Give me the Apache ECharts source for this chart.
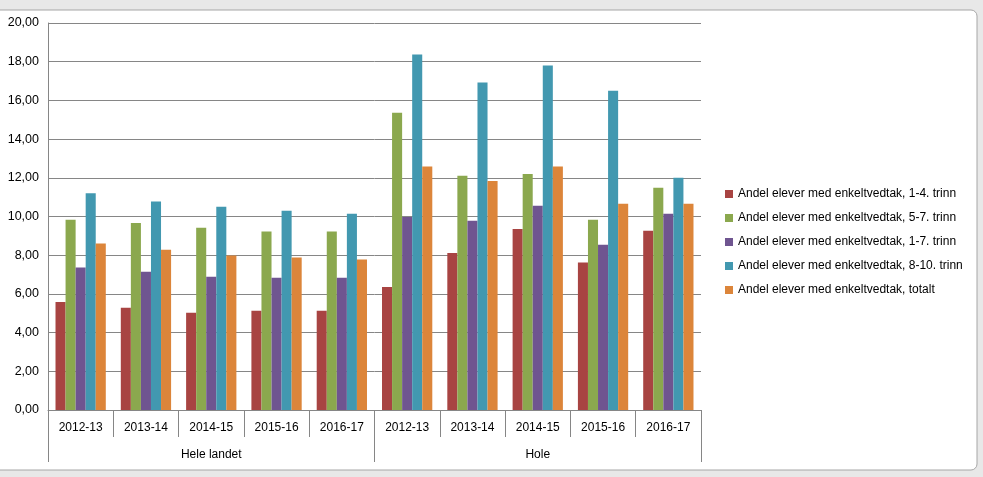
<!DOCTYPE html>
<html>
<head>
<meta charset="utf-8">
<script src="https://cdn.jsdelivr.net/npm/echarts@6/dist/echarts.min.js"></script>
<style>
    html, body { margin: 0; padding: 0; background: #e8e8e8; }
    #chart { width: 983px; height: 477px; }
</style>
</head>
<body>
<div id="chart"></div>
<script>
// data
let years = ['2012-13', '2013-14', '2014-15', '2015-16', '2016-17',
    '2012-13', '2013-14', '2014-15', '2015-16', '2016-17'];
let regions = ['Hele landet', 'Hole'];
let seriesNames = [
    'Andel elever med enkeltvedtak, 1-4. trinn',
    'Andel elever med enkeltvedtak, 5-7. trinn',
    'Andel elever med enkeltvedtak, 1-7. trinn',
    'Andel elever med enkeltvedtak, 8-10. trinn',
    'Andel elever med enkeltvedtak, totalt'
];
let trinn14 = [5.58, 5.28, 5.02, 5.13, 5.13, 6.36, 8.12, 9.36, 7.62, 9.27];
let trinn57 = [9.83, 9.67, 9.42, 9.22, 9.22, 15.36, 12.1, 12.2, 9.83, 11.48];
let trinn17 = [7.36, 7.15, 6.88, 6.83, 6.83, 9.98, 9.78, 10.56, 8.54, 10.14];
let trinn810 = [11.2, 10.77, 10.5, 10.3, 10.14, 18.37, 16.92, 17.8, 16.5, 12.0];
let totalt = [8.6, 8.28, 7.98, 7.88, 7.78, 12.58, 11.84, 12.58, 10.66, 10.66];
let colors = ['#a84442', '#8ba84e', '#6f5590', '#4298b0', '#dc853a'];

(function() {
    let chartDom = document.getElementById('chart');
    let myChart = echarts.init(chartDom);
    let values = [trinn14, trinn57, trinn17, trinn810, totalt];
    let font = 'Liberation Sans, Arial, sans-serif';

    let series = values.map(function(v, i) {
        return {
            name: seriesNames[i],
            type: 'bar',
            data: v,
            barGap: 0,
            barCategoryGap: '23%',
            itemStyle: { color: colors[i] },
            xAxisIndex: 0
        };
    });

    let option = {
        backgroundColor: 'transparent',
        animation: false,
        graphic: [
            // chart frame
            {
                type: 'rect',
                shape: { x: -20, y: 10, width: 997, height: 460, r: 6 },
                style: { fill: '#fff', stroke: '#a6a6a6', lineWidth: 1 },
                z: -10
            }
        ],
        color: colors,
        legend: {
            orient: 'vertical',
            left: 720,
            top: 183,
            itemWidth: 8,
            itemHeight: 8,
            itemGap: 12,
            icon: 'rect',
            textStyle: { fontFamily: font, fontSize: 12, color: '#000' },
            data: seriesNames
        },
        grid: {
            left: 48,
            right: 282,
            top: 23,
            bottom: 67
        },
        xAxis: [{
                type: 'category',
                data: years,
                position: 'bottom',
                axisLine: { lineStyle: { color: '#868686' } },
                axisTick: { show: true, length: 27, lineStyle: { color: '#868686' } },
                axisLabel: {
                    interval: 0,
                    margin: 12,
                    fontFamily: font,
                    fontSize: 12,
                    color: '#000'
                }
            },
            {
                type: 'category',
                data: regions,
                position: 'bottom',
                axisLine: { show: false },
                axisTick: { show: true, length: 52, lineStyle: { color: '#868686' } },
                axisLabel: {
                    interval: 0,
                    margin: 39,
                    fontFamily: font,
                    fontSize: 12,
                    color: '#000'
                }
            }
        ],
        yAxis: {
            type: 'value',
            min: 0,
            max: 20,
            interval: 2,
            axisLine: { show: true, lineStyle: { color: '#868686' } },
            axisTick: { show: false },
            splitLine: { lineStyle: { color: '#868686' } },
            axisLabel: {
                margin: 9,
                fontFamily: font,
                fontSize: 12.5,
                color: '#000',
                formatter: function(v) {
                    return v.toFixed(2).replace('.', ',');
                }
            }
        },
        series: series
    };
    myChart.setOption(option);
    window.addEventListener('resize', function() {
        myChart.resize();
    });
})();
</script>
</body>
</html>
